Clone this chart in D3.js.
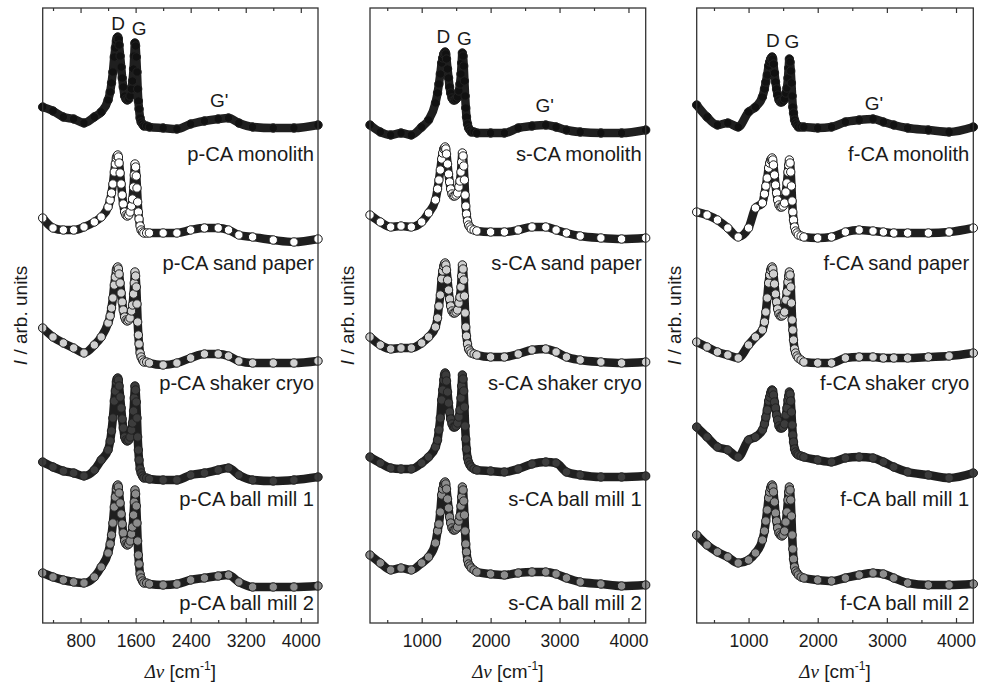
<!DOCTYPE html>
<html>
<head>
<meta charset="utf-8">
<script src="https://cdn.jsdelivr.net/npm/d3@7"></script>
<style>
  body { margin: 0; background: #fff; }
  text { font-family: "Liberation Sans", Arial, sans-serif; fill: #1a1a1a; }
</style>
</head>
<body>
<svg id="chart" width="987" height="684"></svg>
<script>
// Raman shift (cm^-1) shared by all spectra
const wavenumbers = [250, 400, 550, 700, 850, 1000, 1100, 1200,
  1230, 1250, 1270, 1290, 1305, 1320, 1330, 1340, 1350, 1360, 1375, 1390, 1405, 1420, 1440, 1460, 1480, 1500, 1520,
  1540, 1555, 1570, 1580, 1590, 1600, 1610, 1620, 1630, 1640, 1650, 1665, 1680, 1700, 1720,
  1760, 1800, 2000, 2200, 2400, 2600, 2800, 2950, 3100, 3300, 3600, 3900, 4250];

const sampleNames = ['monolith', 'sand paper', 'shaker cryo', 'ball mill 1', 'ball mill 2'];
const sampleFills = ['#111111', '#ffffff', '#d0d0d0', '#3c3c3c', '#8c8c8c'];

// stacked intensities (arb. units, offsets included)
const pcaMonolith = [516, 512, 506, 504, 500, 506, 511, 523, 531, 540, 551, 566, 575, 582, 585, 586, 584, 578, 567, 556, 545, 536, 527, 524, 523, 524, 527, 534, 542, 554, 567, 580, 577, 566, 551, 534, 522, 514, 505, 501, 499, 497, 497, 496, 495, 494, 499, 502, 504, 505, 500, 496, 495, 495, 498];
const pcaSandPaper = [405, 395, 393, 393, 396, 401, 406, 416, 423, 430, 439, 451, 459, 465, 467, 468, 466, 460, 450, 439, 428, 419, 411, 408, 407, 408, 411, 417, 424, 436, 448, 459, 456, 447, 435, 421, 411, 404, 397, 393, 391, 390, 390, 390, 390, 390, 393, 395, 395, 393, 388, 386, 383, 381, 384];
const pcaShakerCryo = [295, 286, 280, 275, 270, 278, 286, 300, 307, 315, 325, 338, 346, 353, 355, 356, 354, 349, 340, 330, 321, 313, 306, 303, 302, 303, 305, 312, 318, 329, 340, 351, 347, 336, 319, 301, 288, 279, 270, 266, 263, 261, 261, 260, 258, 260, 265, 269, 269, 267, 262, 260, 260, 260, 262];
const pcaBallMill1 = [161, 156, 152, 150, 147, 153, 163, 173, 182, 192, 205, 222, 232, 241, 244, 245, 243, 237, 226, 215, 204, 195, 186, 183, 182, 183, 186, 193, 200, 212, 225, 237, 233, 221, 205, 186, 173, 163, 154, 150, 147, 145, 145, 144, 143, 143, 148, 150, 153, 155, 148, 143, 142, 143, 146];
const pcaBallMill2 = [50, 46, 43, 41, 40, 46, 56, 70, 79, 88, 100, 116, 126, 134, 137, 138, 136, 130, 120, 109, 99, 90, 82, 79, 78, 79, 82, 89, 96, 108, 121, 133, 129, 117, 100, 82, 68, 59, 49, 45, 42, 40, 40, 39, 38, 39, 43, 45, 47, 48, 41, 36, 36, 36, 37];

const scaMonolith = [498, 491, 488, 490, 488, 496, 503, 520, 530, 539, 549, 560, 565, 569, 570, 571, 569, 564, 554, 545, 536, 530, 525, 523, 523, 524, 526, 532, 539, 549, 560, 570, 567, 557, 542, 527, 515, 506, 499, 495, 493, 491, 491, 490, 490, 490, 495, 497, 498, 496, 493, 491, 490, 490, 493];
const scaSandPaper = [408, 401, 396, 397, 396, 401, 410, 423, 434, 443, 453, 464, 470, 474, 475, 476, 474, 469, 459, 449, 441, 434, 429, 427, 427, 428, 430, 436, 442, 451, 461, 470, 467, 457, 443, 428, 417, 409, 402, 398, 396, 394, 393, 392, 391, 391, 393, 396, 396, 393, 390, 387, 385, 384, 385];
const scaShakerCryo = [286, 278, 274, 275, 275, 280, 286, 296, 305, 317, 328, 344, 352, 357, 359, 360, 358, 353, 343, 333, 324, 317, 312, 310, 310, 311, 313, 320, 326, 336, 347, 358, 354, 343, 327, 310, 296, 287, 279, 274, 272, 270, 269, 268, 266, 266, 269, 273, 274, 271, 266, 263, 261, 260, 261];
const scaBallMill1 = [166, 160, 155, 154, 154, 160, 166, 176, 183, 193, 205, 223, 233, 243, 248, 250, 248, 242, 231, 220, 211, 204, 199, 196, 196, 197, 200, 206, 213, 225, 237, 248, 244, 232, 216, 197, 184, 174, 165, 161, 158, 156, 154, 153, 152, 151, 154, 159, 161, 160, 151, 148, 146, 146, 147];
const scaBallMill2 = [68, 60, 53, 55, 53, 60, 66, 80, 92, 99, 111, 128, 134, 139, 140, 141, 139, 134, 124, 115, 106, 100, 95, 93, 93, 94, 96, 102, 107, 117, 126, 136, 133, 122, 108, 92, 79, 71, 63, 59, 57, 55, 53, 51, 49, 48, 50, 51, 51, 49, 45, 41, 39, 37, 38];

const fcaMonolith = [518, 506, 498, 500, 496, 511, 516, 526, 534, 541, 548, 557, 561, 564, 565, 566, 564, 559, 550, 541, 534, 528, 523, 521, 521, 522, 524, 530, 535, 545, 555, 564, 561, 552, 540, 527, 516, 510, 503, 500, 498, 496, 496, 496, 495, 496, 501, 503, 504, 501, 498, 495, 493, 491, 496];
const fcaSandPaper = [411, 408, 403, 395, 386, 395, 415, 420, 429, 437, 445, 455, 460, 463, 464, 465, 463, 458, 448, 438, 430, 423, 418, 416, 416, 417, 420, 431, 440, 451, 458, 463, 460, 451, 437, 422, 411, 403, 396, 392, 390, 388, 387, 386, 385, 386, 391, 393, 392, 391, 390, 390, 390, 391, 395];
const fcaShakerCryo = [281, 276, 271, 268, 265, 278, 286, 293, 301, 311, 325, 340, 348, 353, 355, 356, 354, 349, 339, 329, 321, 314, 309, 307, 307, 308, 311, 323, 331, 341, 347, 351, 348, 336, 320, 303, 293, 283, 274, 270, 267, 265, 263, 261, 260, 260, 265, 266, 266, 265, 265, 265, 266, 267, 270];
const fcaBallMill1 = [196, 186, 176, 173, 166, 183, 186, 193, 199, 206, 213, 222, 226, 230, 232, 233, 232, 228, 221, 215, 208, 203, 197, 195, 195, 196, 199, 208, 215, 223, 227, 231, 229, 222, 211, 198, 188, 181, 174, 171, 169, 168, 167, 166, 163, 161, 165, 166, 165, 161, 156, 151, 148, 145, 150];
const fcaBallMill2 = [88, 78, 71, 66, 60, 63, 70, 83, 92, 102, 113, 125, 131, 135, 137, 138, 136, 131, 121, 110, 102, 95, 90, 88, 87, 88, 92, 101, 111, 123, 131, 136, 133, 123, 107, 88, 74, 64, 56, 52, 50, 48, 46, 45, 43, 42, 45, 48, 50, 49, 45, 40, 38, 38, 39];

// axis ticks
const pcaMajorTicks = [800, 1600, 2400, 3200, 4000];
const pcaMinorTicks = [400, 1200, 2000, 2800, 3600];
const otherMajorTicks = [1000, 2000, 3000, 4000];
const otherMinorTicks = [500, 1500, 2500, 3500];

// peak annotations [text, wavenumber, intensity]
const pcaPeaks = [['D', 1345, 593], ['G', 1651, 588], ["G'", 2814, 516]];
const scaPeaks = [['D', 1313, 580], ['G', 1618, 578], ["G'", 2783, 511]];
const fcaPeaks = [['D', 1353, 576], ['G', 1627, 575], ["G'", 2812, 513]];

const panels = [
  { prefix: 'p-CA', spectra: [pcaMonolith, pcaSandPaper, pcaShakerCryo, pcaBallMill1, pcaBallMill2],
    major: pcaMajorTicks, minor: pcaMinorTicks, peaks: pcaPeaks, left: 42.7, right: 318 },
  { prefix: 's-CA', spectra: [scaMonolith, scaSandPaper, scaShakerCryo, scaBallMill1, scaBallMill2],
    major: otherMajorTicks, minor: otherMinorTicks, peaks: scaPeaks, left: 370, right: 645.7 },
  { prefix: 'f-CA', spectra: [fcaMonolith, fcaSandPaper, fcaShakerCryo, fcaBallMill1, fcaBallMill2],
    major: otherMajorTicks, minor: otherMinorTicks, peaks: fcaPeaks, left: 696.7, right: 973.3 }
];

const plotTop = 8, plotBottom = 623;
const labelBaselines = [161, 270, 390, 506, 610];

const svg = d3.select('#chart');

// y is shared: intensity in arb. units
const y = d3.scaleLinear().domain([0, 615]).range([plotBottom, plotTop]);

panels.forEach(p => {
  const x = d3.scaleLinear().domain([250, 4250]).range([p.left, p.right]);
  const g = svg.append('g');

  // spectra: thick dark trace + circle markers
  p.spectra.forEach((vals, i) => {
    const pts = wavenumbers.map((w, k) => [w, vals[k]]);
    const line = d3.line()
      .x(d => x(d[0]))
      .y(d => y(d[1]))
      .curve(d3.curveMonotoneX);

    g.append('path')
      .attr('d', line(pts))
      .attr('fill', 'none')
      .attr('stroke', '#1f1f1f')
      .attr('stroke-width', 8.5)
      .attr('stroke-linecap', 'round')
      .attr('stroke-linejoin', 'round');

    g.append('g').selectAll('circle')
      .data(pts)
      .join('circle')
      .attr('cx', d => x(d[0]))
      .attr('cy', d => y(d[1]))
      .attr('r', 4.2)
      .attr('fill', sampleFills[i])
      .attr('stroke', '#222')
      .attr('stroke-width', 1);

    g.append('text')
      .attr('x', p.right - 4)
      .attr('y', labelBaselines[i])
      .attr('text-anchor', 'end')
      .attr('font-size', 20.2)
      .text(`${p.prefix} ${sampleNames[i]}`);
  });

  // peak labels
  g.selectAll('text.peak')
    .data(p.peaks)
    .join('text')
    .attr('class', 'peak')
    .attr('x', d => x(d[1]))
    .attr('y', d => y(d[2]))
    .attr('text-anchor', 'middle')
    .attr('font-size', 19)
    .text(d => d[0]);

  // frame
  g.append('rect')
    .attr('x', p.left).attr('y', plotTop)
    .attr('width', p.right - p.left).attr('height', plotBottom - plotTop)
    .attr('fill', 'none')
    .attr('stroke', '#333')
    .attr('stroke-width', 1.3);

  // bottom axis, ticks pointing inward
  const bx = g.append('g').attr('transform', `translate(0,${plotBottom})`)
    .call(d3.axisBottom(x).tickValues(p.major).tickSizeInner(-5).tickSizeOuter(0).tickPadding(12).tickFormat(d3.format('d')));
  bx.select('.domain').remove();
  bx.selectAll('text').attr('font-size', 17.5).style('font-family', '"Liberation Sans", Arial, sans-serif').attr('fill', '#1a1a1a');
  bx.selectAll('line').attr('stroke', '#333').attr('stroke-width', 1.2);

  const bm = g.append('g').attr('transform', `translate(0,${plotBottom})`)
    .call(d3.axisBottom(x).tickValues(p.minor).tickSizeInner(-3).tickSizeOuter(0).tickFormat(''));
  bm.select('.domain').remove();
  bm.selectAll('line').attr('stroke', '#333').attr('stroke-width', 1.2);

  // top axis
  const tx = g.append('g').attr('transform', `translate(0,${plotTop})`)
    .call(d3.axisTop(x).tickValues(p.major).tickSizeInner(-5).tickSizeOuter(0).tickFormat(''));
  tx.select('.domain').remove();
  tx.selectAll('line').attr('stroke', '#333').attr('stroke-width', 1.2);

  const tm = g.append('g').attr('transform', `translate(0,${plotTop})`)
    .call(d3.axisTop(x).tickValues(p.minor).tickSizeInner(-3).tickSizeOuter(0).tickFormat(''));
  tm.select('.domain').remove();
  tm.selectAll('line').attr('stroke', '#333').attr('stroke-width', 1.2);

  // x title
  const xt = g.append('text')
    .attr('x', (p.left + p.right) / 2)
    .attr('y', 678)
    .attr('text-anchor', 'middle')
    .attr('font-size', 19);
  xt.append('tspan').attr('font-style', 'italic').style('font-family', '"Liberation Serif", "DejaVu Serif", serif').text('Δν');
  xt.append('tspan').text(' [cm');
  xt.append('tspan').attr('font-size', 12).attr('dy', -8).text('-1');
  xt.append('tspan').attr('dy', 8).text(']');

  // y title
  const yt = g.append('text')
    .attr('transform', `translate(${p.left - 16},${(plotTop + plotBottom) / 2}) rotate(-90)`)
    .attr('text-anchor', 'middle')
    .attr('font-size', 19);
  yt.append('tspan').attr('font-style', 'italic').text('I');
  yt.append('tspan').text(' / arb. units');
});
</script>
</body>
</html>
